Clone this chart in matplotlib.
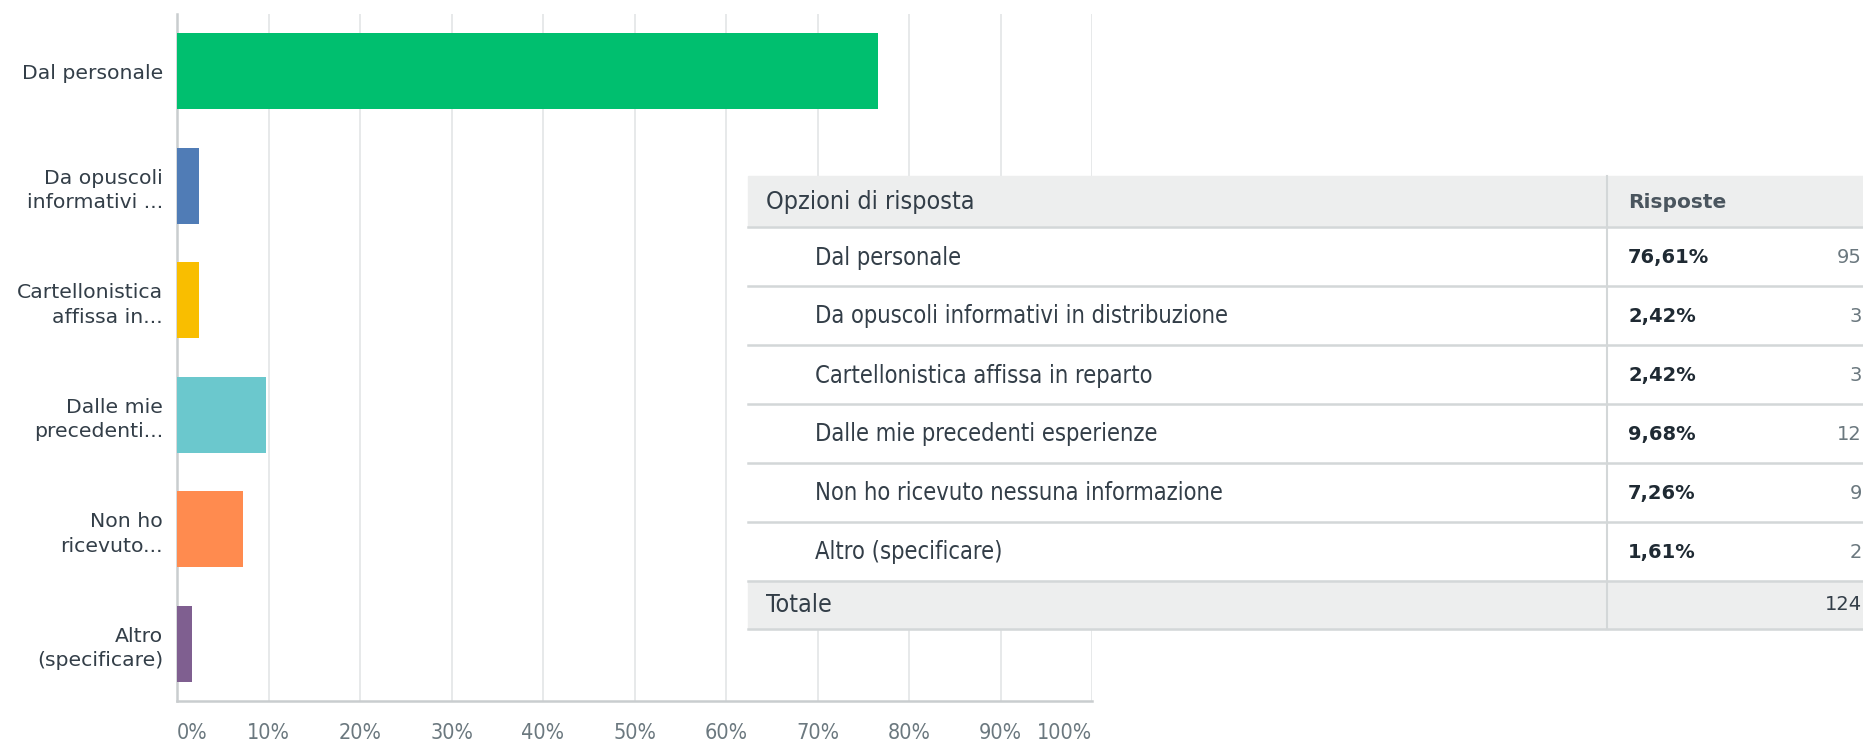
import numpy as np
import matplotlib.pyplot as plt
from matplotlib.patches import Rectangle

# dati
etichette = ["Dal personale", "Da opuscoli\ninformativi ...", "Cartellonistica\naffissa in...",
             "Dalle mie\nprecedenti...", "Non ho\nricevuto...", "Altro\n(specificare)"]
opzioni = ["Dal personale", "Da opuscoli informativi in distribuzione",
           "Cartellonistica affissa in reparto", "Dalle mie precedenti esperienze",
           "Non ho ricevuto nessuna informazione", "Altro (specificare)"]
percentuali = [76.61, 2.42, 2.42, 9.68, 7.26, 1.61]
risposte = [95, 3, 3, 12, 9, 2]
totale = 124
colori = ["#00bf6f", "#507cb6", "#f9be00", "#6bc8cd", "#ff8b4f", "#7f5f90"]
tick_vals = list(range(0, 101, 10))

W, H = 1863, 744
fig = plt.figure(figsize=(W / 100, H / 100), dpi=100)

# grafico a barre
ax = fig.add_axes([177 / W, 1 - 701 / H, 915 / W, 687 / H])
y = np.arange(len(percentuali))
ax.barh(y, percentuali, height=0.66, color=colori, zorder=3)
ax.set_ylim(len(y) - 0.5, -0.5)
ax.set_xlim(0, 100)
ax.set_yticks(y)
ax.set_yticklabels(etichette, fontsize=14.7, color="#333e48", linespacing=1.38,
                   family="DejaVu Sans")
ax.set_xticks(tick_vals)
ax.set_xticklabels([f"{v}%" for v in tick_vals], fontsize=15.5, color="#6b787f",
                   family="DejaVu Sans", stretch="condensed")
lab = ax.get_xticklabels()
lab[0].set_ha("left")
lab[-1].set_ha("right")
ax.tick_params(axis="y", length=0, pad=10)
ax.tick_params(axis="x", length=0, pad=16)
ax.grid(axis="x", color="#e3e5e6", linewidth=1.2, zorder=0)
for s in ["top", "right"]:
    ax.spines[s].set_visible(False)
for s in ["left", "bottom"]:
    ax.spines[s].set_color("#c9cdcf")
    ax.spines[s].set_linewidth(1.8)

# tabella sovrapposta (coordinate in pixel)
tx = fig.add_axes([0, 0, 1, 1], zorder=5)
tx.set_xlim(0, W)
tx.set_ylim(H, 0)
tx.axis("off")

x0, x1, xdiv = 748, W + 10, 1607
top, head_h, row_h, tot_h = 176, 51, 59, 48
rows_bottom = top + head_h + row_h * len(opzioni)
grigio = "#edeeee"
linea = "#d3d7d8"
cond = dict(family="DejaVu Sans", stretch="condensed")

tx.add_patch(Rectangle((x0, top), x1 - x0, head_h, color=grigio, zorder=1))
tx.add_patch(Rectangle((x0, top + head_h), x1 - x0, row_h * len(opzioni), color="white", zorder=1))
tx.add_patch(Rectangle((x0, rows_bottom), x1 - x0, tot_h, color=grigio, zorder=1))

tx.text(766, top + head_h / 2 + 1, "Opzioni di risposta", fontsize=18, color="#333e48",
        va="center", **cond)
tx.text(1628, top + head_h / 2 + 1, "Risposte", fontsize=14.5, color="#4a555e",
        family="DejaVu Sans", weight="bold", va="center")

for i, (op, p, r) in enumerate(zip(opzioni, percentuali, risposte)):
    yt = top + head_h + row_h * i
    tx.plot([x0, x1], [yt, yt], color=linea, linewidth=1.8, zorder=2)
    yc = yt + row_h / 2 + 1
    tx.text(815, yc, op, fontsize=17, color="#333e48", va="center", **cond)
    tx.text(1628, yc, f"{p:.2f}%".replace(".", ","), fontsize=14, color="#1f2a33",
            family="DejaVu Sans", weight="bold", va="center")
    tx.text(1862, yc, str(r), fontsize=14, color="#6b787f", family="DejaVu Sans",
            ha="right", va="center")

tx.plot([x0, x1], [rows_bottom, rows_bottom], color=linea, linewidth=1.8, zorder=2)
tx.plot([x0, x1], [rows_bottom + tot_h, rows_bottom + tot_h], color=linea, linewidth=1.8, zorder=2)
tx.plot([xdiv, xdiv], [top, rows_bottom + tot_h], color=linea, linewidth=1.5, zorder=2)
tx.text(766, rows_bottom + tot_h / 2, "Totale", fontsize=18, color="#333e48",
        va="center", **cond)
tx.text(1862, rows_bottom + tot_h / 2, str(totale), fontsize=14, color="#333e48",
        family="DejaVu Sans", ha="right", va="center")

fig.savefig("out.png", dpi=100)
